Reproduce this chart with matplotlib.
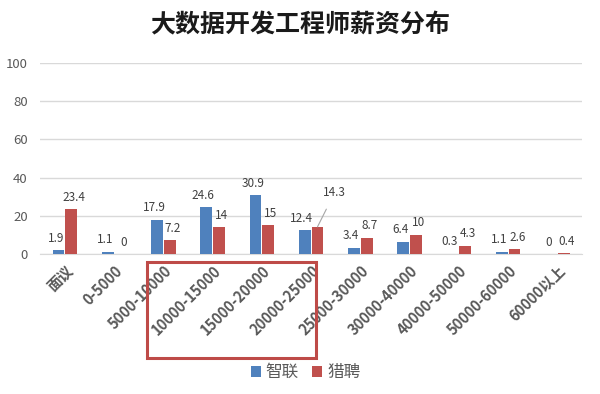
import matplotlib
matplotlib.use('Agg')
import matplotlib.pyplot as plt
import matplotlib.patches as mpatches
import matplotlib.transforms as mtransforms
import numpy as np

plt.rcParams['font.family'] = ['Noto Sans CJK SC', 'DejaVu Sans']

# data
categories = ['面议', '0-5000', '5000-10000', '10000-15000', '15000-20000',
              '20000-25000', '25000-30000', '30000-40000', '40000-50000',
              '50000-60000', '60000以上']
zhilian = [1.9, 1.1, 17.9, 24.6, 30.9, 12.4, 3.4, 6.4, 0.3, 1.1, 0]
liepin = [23.4, 0, 7.2, 14, 15, 14.3, 8.7, 10, 4.3, 2.6, 0.4]
series_names = ['智联', '猎聘']

blue = '#4f81bd'
red = '#c0504d'
grid_c = '#d9d9d9'
text_c = '#595959'

fig = plt.figure(figsize=(6, 3.94), dpi=100, facecolor='white')
ax = fig.add_axes([0.067, 0.355, 0.903, 0.485])

x = np.arange(len(categories))
w = 0.24
off = 0.13
b1 = ax.bar(x - off, zhilian, w, color=blue, label=series_names[0], zorder=3)
b2 = ax.bar(x + off, liepin, w, color=red, label=series_names[1], zorder=3)

# value labels (nudged apart a little, like Excel does)
for bars, vals, dx in ((b1, zhilian, -2), (b2, liepin, 2)):
    for rect, v in zip(bars, vals):
        txt = f'{v:g}'
        cx = rect.get_x() + rect.get_width() / 2
        if bars is b2 and v == 14.3:
            ax.annotate(txt, xy=(cx, v), xytext=(cx + 0.35, v + 18),
                        ha='center', va='center', fontsize=8.5, color='#404040',
                        arrowprops=dict(arrowstyle='-', color='#a6a6a6', lw=0.8,
                                        shrinkA=6, shrinkB=0))
            continue
        ax.annotate(txt, xy=(cx, v), xytext=(dx, 4), textcoords='offset points',
                    ha='center', va='bottom', fontsize=8.5, color='#404040')

ax.set_xlim(-0.5, len(categories) - 0.5)
ax.set_ylim(0, 100)
ax.set_yticks(range(0, 101, 20))
ax.yaxis.grid(True, color=grid_c, lw=1, zorder=0)
ax.set_axisbelow(True)
for s in ('top', 'right', 'left'):
    ax.spines[s].set_visible(False)
ax.spines['bottom'].set_color(grid_c)
ax.tick_params(axis='y', length=0, pad=9, labelsize=9.5, labelcolor=text_c)
ax.tick_params(axis='x', length=0, pad=6)
ax.set_xticks(x)
ax.set_xticklabels(categories, rotation=45, ha='right', rotation_mode='anchor',
                   fontsize=10.5, color=text_c, fontweight='bold')

# highlight box around the 10000-25000 labels
trans = mtransforms.blended_transform_factory(ax.transData, ax.transAxes)
rect = mpatches.Rectangle((1.67, -0.545), 5.1 - 1.67, 0.503, transform=trans,
                          fill=False, edgecolor='#be4b48', lw=2.2, clip_on=False,
                          zorder=5)
ax.add_patch(rect)

ax.legend(loc='center', bbox_to_anchor=(0.49, -0.62), ncol=2, frameon=False,
          fontsize=12, handlelength=0.6, handleheight=0.6, handletextpad=0.3,
          columnspacing=0.8, labelcolor=text_c)

fig.text(0.5, 0.935, '大数据开发工程师薪资分布', ha='center', va='center',
         fontsize=18, color='#1a1a1a', fontweight='bold')

fig.savefig('out.png', dpi=100, facecolor='white')
